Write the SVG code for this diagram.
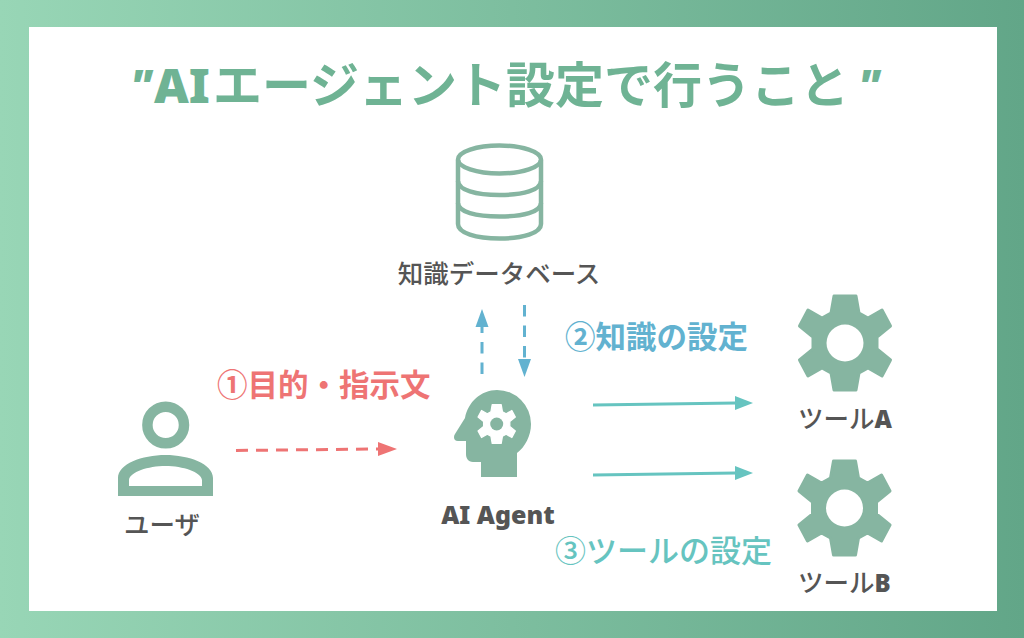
<svg xmlns="http://www.w3.org/2000/svg" width="1024" height="638" viewBox="0 0 1024 638">
<style>
text{font-family:"Noto Sans CJK JP","Noto Sans",sans-serif;font-weight:500}
.latin{font-family:"Noto Sans","Open Sans",sans-serif;font-weight:900}
.title{font-size:49px;fill:#6fb394;font-weight:700}
.lbl{font-size:25.500px;fill:#555}
.n1{font-size:30.500px;fill:#ee7474;font-weight:700}
.n2{font-size:30.500px;fill:#62b2d0;font-weight:700}
.n3{font-size:31px;fill:#66c4c0}
.g{fill:#86b5a1;stroke:#86b5a1}
.w{fill:#fff;stroke:#fff}
.dash-r{stroke:#ee7474;stroke-width:3;stroke-dasharray:12 8;fill:none}
.dash-b{stroke:#62b2d0;stroke-width:3;stroke-dasharray:11.500 9;fill:none}
.solid{stroke:#66c4c0;stroke-width:3;fill:none}
.hr{fill:#ee7474}.hb{fill:#62b2d0}.hs{fill:#66c4c0}
</style>
<defs>
<linearGradient id="bg" x1="0" y1="0" x2="1" y2="0"><stop offset="0" stop-color="#98d6b6"/><stop offset="1" stop-color="#62a688"/></linearGradient>
<polygon id="gear" stroke-width="3" stroke-linejoin="round" points="-11,-47 11,-47 14,-30 23,-25 37,-33 45.500,-17 32,-6 32,6 45.500,17 37,33 23,25 14,30 11,47 -11,47 -14,30 -23,25 -37,33 -45.500,17 -32,6 -32,-6 -45.500,-17 -37,-33 -23,-25 -14,-30"/>
</defs>
<rect id="frame" width="1024" height="638" fill="url(#bg)"/>
<rect id="panel" x="29" y="27" width="968" height="584" fill="#fff"/>
<text class="title" y="103"><tspan class="latin" x="130" font-size="46" font-style="italic">"</tspan><tspan class="latin" x="154" font-size="48">AI</tspan><tspan x="213">エージェント設定で行うこと</tspan><tspan class="latin" x="858" font-size="46" font-style="italic">"</tspan></text>
<g id="connectors">
<path class="dash-r" d="M236 450.500L378 449"/>
<polygon class="hr" points="378,442 397,449 378,456"/>
<path class="dash-b" d="M482 374V326"/>
<polygon class="hb" points="475.500,327 482,309 488.500,327"/>
<path class="dash-b" d="M524.500 305V359"/>
<polygon class="hb" points="518,359 524.500,377 531,359"/>
<path class="solid" d="M593 405L736 403"/>
<polygon class="hs" points="735,396 753,403 735,410"/>
<path class="solid" d="M593 475L736 473"/>
<polygon class="hs" points="735,466 753,473 735,480"/>
</g>
<g id="database">
<g fill="none" stroke="#86b5a1" stroke-width="4.500">
<ellipse cx="499.500" cy="159.500" rx="41.500" ry="14"/>
<path d="M458 160V224C458 233 476 238.500 499.500 238.500S541 233 541 224V160"/>
<path d="M458 181C458 190 476 195 499.500 195S541 190 541 181"/>
<path d="M458 203C458 212 476 216.500 499.500 216.500S541 212 541 203"/>
</g>
<text class="lbl" x="499" y="283" text-anchor="middle">知識データベース</text>
</g>
<g id="user">
<circle cx="165.700" cy="425" r="18.300" fill="none" stroke="#86b5a1" stroke-width="10.500"/>
<path fill="#86b5a1" fill-rule="evenodd" d="M118 496V478C118 464 142 455 165.500 455S213 464 213 478V496ZM129 486H202V480C201 472 183 466 165.500 466S130 472 129 480Z"/>
<text class="lbl" x="162" y="534" text-anchor="middle">ユーザ</text>
</g>
<g id="agent">
<path fill="#86b5a1" d="M481 477V462H473C468 462 466 458 466 454V441H458C454 441 453 437 455 434L465 418C468 402 481 390 497 390A34 34 0 0 1 531 424C531 436 525 447 517 453V477Z"/>
<use href="#gear" class="w" transform="translate(496.700 424) scale(.41)"/>
<circle cx="496.700" cy="424" r="6.500" fill="#86b5a1"/>
<text class="latin" x="498" y="524" font-size="25" fill="#555" text-anchor="middle">AI Agent</text>
</g>
<g id="tool-a">
<use href="#gear" class="g" transform="translate(845 343)"/>
<circle cx="845" cy="343" r="18.500" fill="#fff"/>
<text class="lbl" y="428"><tspan x="798">ツール</tspan><tspan class="latin" font-size="24">A</tspan></text>
</g>
<g id="tool-b">
<use href="#gear" class="g" transform="translate(844.500 508)"/>
<circle cx="844.500" cy="508" r="18.500" fill="#fff"/>
<text class="lbl" y="592"><tspan x="798">ツール</tspan><tspan class="latin" font-size="24">B</tspan></text>
</g>
<g id="labels">
<text class="n1" x="217" y="396">①目的・指示文</text>
<text class="n2" x="565" y="348">②知識の設定</text>
<text class="n3" x="555" y="562">③ツールの設定</text>
</g>
</svg>
